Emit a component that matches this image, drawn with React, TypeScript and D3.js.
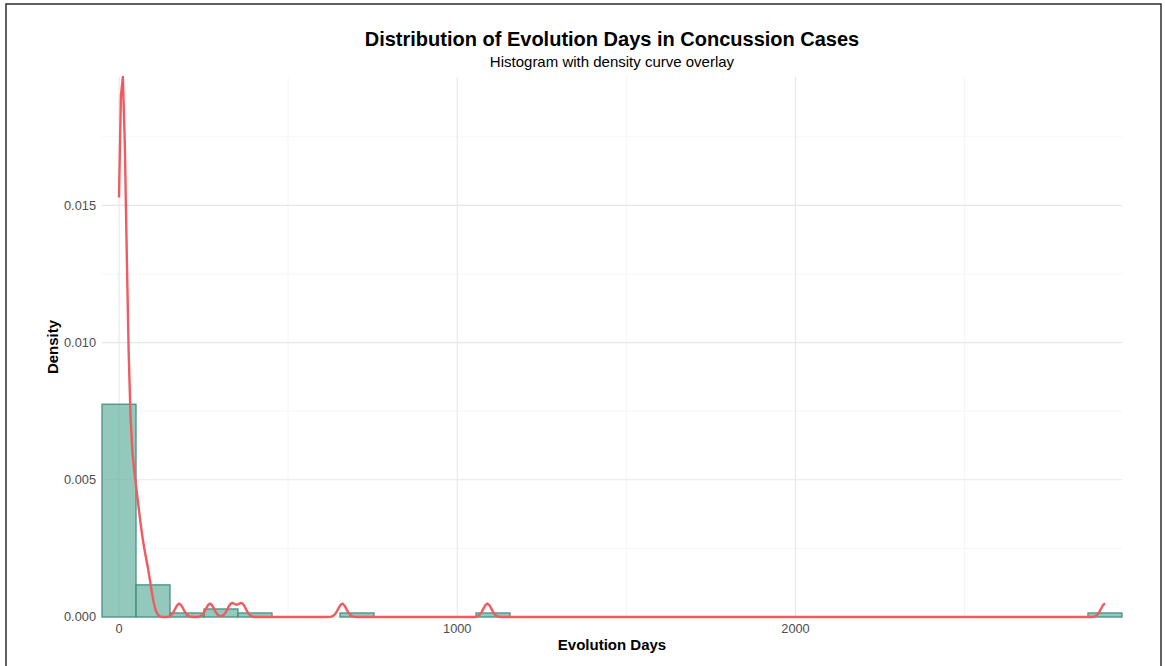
import React from 'react';
import * as d3 from 'd3';

const mainClusterDays: number[] = [
  0, 0, 0, 1, 3, 3, 5, 5, 5, 5,
  7, 7, 7, 7, 7, 7, 7, 7, 7, 7,
  10, 10, 10, 10, 10, 10, 10, 10, 10, 10, 10,
  14, 14, 14, 14, 14, 14, 14, 14, 14,
  20, 20, 20, 30, 30, 30, 35, 40, 40, 45, 45, 45, 48,
];
const secondBinDays: number[] = [55, 58, 60, 65, 70, 78, 85, 90];
const outlierDays: number[] = [178, 269, 333, 363, 660, 1089, 2915];

const evolutionDays: number[] = [...mainClusterDays, ...secondBinDays, ...outlierDays];

const BINS = 30;
const BANDWIDTH = 12;
const KDE_POINTS = 512;

const xMajorTicks: number[] = [0, 1000, 2000];
const xMinorTicks: number[] = [500, 1500, 2500];
const yMajorTicks: number[] = [0, 0.005, 0.01, 0.015];
const yMinorTicks: number[] = [0.0025, 0.0075, 0.0125, 0.0175];

const TITLE = 'Distribution of Evolution Days in Concussion Cases';
const SUBTITLE = 'Histogram with density curve overlay';
const X_LABEL = 'Evolution Days';
const Y_LABEL = 'Density';

const W = 1165;
const H = 666;
const panel = { left: 102, right: 1122, top: 77, bottom: 617 };
const FONT = '"Liberation Sans", Arial, Helvetica, sans-serif';

export default function App() {
  const n = evolutionDays.length;
  const minX = d3.min(evolutionDays) as number;
  const maxX = d3.max(evolutionDays) as number;
  const binWidth = (maxX - minX) / (BINS - 1);
  const boundary = binWidth / 2;
  const shift = Math.floor((minX - boundary) / binWidth);
  const origin = boundary + shift * binWidth;
  const nBins = Math.ceil((maxX - origin) / binWidth + 1e-9);

  const counts = new Array(nBins).fill(0);
  evolutionDays.forEach((v) => {
    let idx = Math.floor((v - origin) / binWidth);
    if (idx < 0) idx = 0;
    if (idx >= nBins) idx = nBins - 1;
    counts[idx] += 1;
  });
  const bins = counts.map((c, i) => ({
    x0: origin + i * binWidth,
    x1: origin + (i + 1) * binWidth,
    density: c / (n * binWidth),
  }));

  const norm = 1 / (n * BANDWIDTH * Math.sqrt(2 * Math.PI));
  const kde = d3.range(KDE_POINTS).map((i) => {
    const x = minX + (i * (maxX - minX)) / (KDE_POINTS - 1);
    let s = 0;
    for (const v of evolutionDays) {
      const z = (x - v) / BANDWIDTH;
      s += Math.exp(-0.5 * z * z);
    }
    return { x, y: s * norm };
  });

  const maxY = Math.max(d3.max(kde, (d) => d.y) as number, d3.max(bins, (b) => b.density) as number);

  const x = d3.scaleLinear().domain([origin, origin + nBins * binWidth]).range([panel.left, panel.right]);
  const y = d3.scaleLinear().domain([0, maxY]).range([panel.bottom, panel.top]);

  const line = d3
    .line<{ x: number; y: number }>()
    .x((d) => x(d.x))
    .y((d) => y(d.y));

  const fmtY = d3.format('.3f');
  const cx = (panel.left + panel.right) / 2;
  const cy = (panel.top + panel.bottom) / 2;

  return (
    <svg
      width={W}
      height={H}
      style={{ position: 'absolute', left: 0, top: 0, background: '#fff' }}
      fontFamily={FONT}
    >
      <rect x={0} y={0} width={W} height={H} fill="#fff" />
      {/* minor grid */}
      {xMinorTicks.map((t) => (
        <line key={'xm' + t} x1={x(t)} x2={x(t)} y1={panel.top} y2={panel.bottom} stroke="#f2f2f2" strokeWidth={0.8} />
      ))}
      {yMinorTicks.map((t) => (
        <line key={'ym' + t} x1={panel.left} x2={panel.right} y1={y(t)} y2={y(t)} stroke="#f2f2f2" strokeWidth={0.8} />
      ))}
      {/* major grid */}
      {xMajorTicks.map((t) => (
        <line key={'xM' + t} x1={x(t)} x2={x(t)} y1={panel.top} y2={panel.bottom} stroke="#e6e6e6" strokeWidth={1.1} />
      ))}
      {yMajorTicks.map((t) => (
        <line key={'yM' + t} x1={panel.left} x2={panel.right} y1={y(t)} y2={y(t)} stroke="#e6e6e6" strokeWidth={1.1} />
      ))}

      {/* histogram */}
      {bins
        .filter((b) => b.density > 0)
        .map((b, i) => (
          <rect
            key={'b' + i}
            x={x(b.x0)}
            y={y(b.density)}
            width={x(b.x1) - x(b.x0)}
            height={y(0) - y(b.density)}
            fill="#69b3a2"
            fillOpacity={0.72}
            stroke="#4a9084"
            strokeWidth={1.3}
          />
        ))}

      {/* density */}
      <path d={line(kde) || ''} fill="none" stroke="#ef5b60" strokeWidth={2.4} strokeLinejoin="round" />

      {/* y tick labels */}
      {yMajorTicks.map((t) => (
        <text key={'yl' + t} x={panel.left - 6} y={y(t)} dy="0.35em" textAnchor="end" fontSize={12.8} fill="#4d4d4d">
          {fmtY(t)}
        </text>
      ))}
      {/* x tick labels */}
      {xMajorTicks.map((t) => (
        <text key={'xl' + t} x={x(t)} y={633} textAnchor="middle" fontSize={12.8} fill="#4d4d4d">
          {t}
        </text>
      ))}

      {/* axis titles */}
      <text x={cx} y={650} textAnchor="middle" fontSize={15} fontWeight="bold" fill="#000">
        {X_LABEL}
      </text>
      <text
        transform={`translate(58, ${cy}) rotate(-90)`}
        textAnchor="middle"
        fontSize={15}
        fontWeight="bold"
        fill="#000"
      >
        {Y_LABEL}
      </text>

      {/* titles */}
      <text x={cx} y={46} textAnchor="middle" fontSize={20} fontWeight="bold" fill="#000">
        {TITLE}
      </text>
      <text x={cx} y={67} textAnchor="middle" fontSize={15} fill="#000">
        {SUBTITLE}
      </text>

      {/* frame */}
      <rect x={6} y={4} width={1155} height={700} fill="none" stroke="#3a3a3a" strokeWidth={1.6} />
    </svg>
  );
}
